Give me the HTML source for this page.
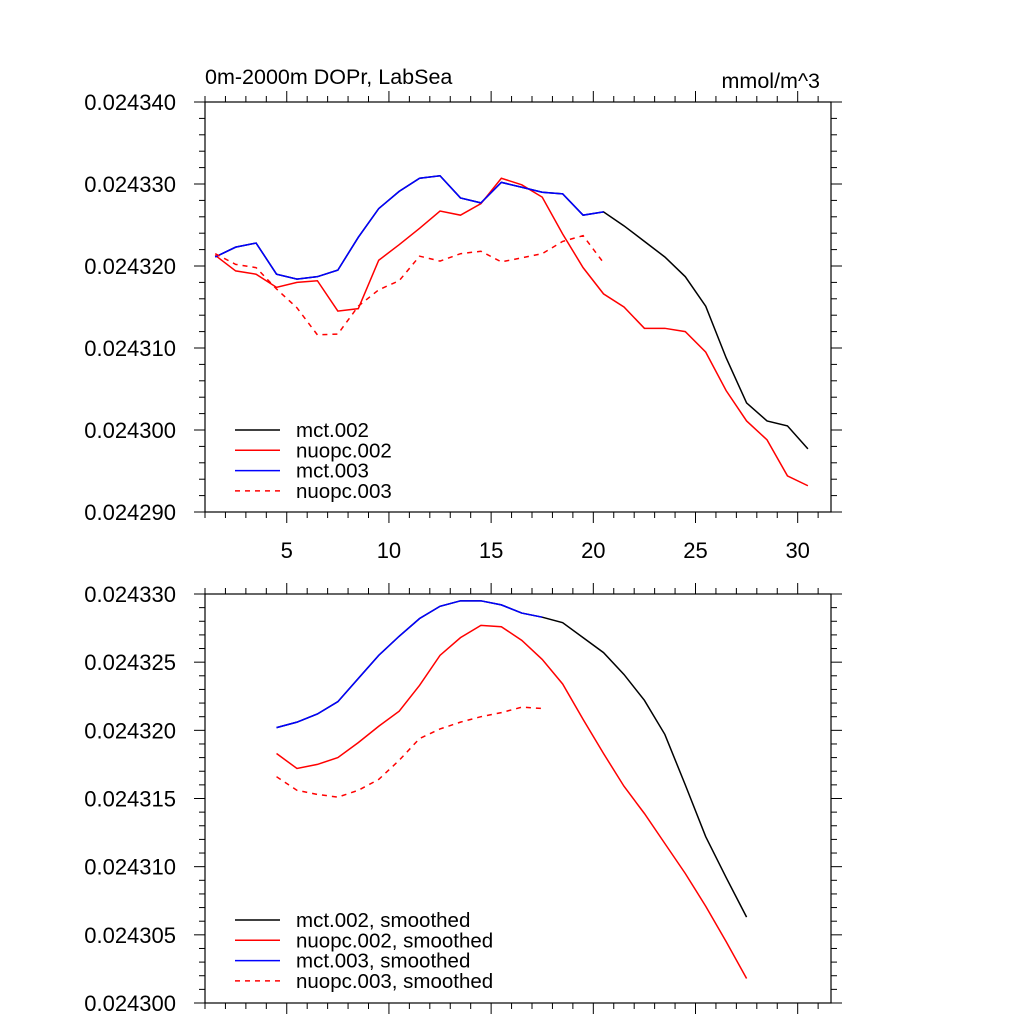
<!DOCTYPE html>
<html><head><meta charset="utf-8"><style>
body{margin:0;background:#fff}
text{font-family:"Liberation Sans",sans-serif;fill:#000}
</style></head><body>
<svg id="c" width="1024" height="1024" xmlns="http://www.w3.org/2000/svg"></svg>
<script>
const xsTop = [1.5,2.5,3.5,4.5,5.5,6.5,7.5,8.5,9.5,10.5,11.5,12.5,13.5,14.5,15.5,16.5,17.5,18.5,19.5,20.5,21.5,22.5,23.5,24.5,25.5,26.5,27.5,28.5,29.5,30.5];
const mct002 = [321.1,322.3,322.8,319.0,318.4,318.7,319.5,323.5,327.0,329.1,330.7,331.0,328.3,327.7,330.2,329.6,329.0,328.8,326.2,326.6,324.9,323.0,321.1,318.7,315.1,308.8,303.3,301.1,300.5,297.7];
const nuopc002 = [321.3,319.4,319.0,317.4,318.0,318.2,314.5,314.8,320.7,322.6,324.6,326.7,326.2,327.6,330.7,329.9,328.4,323.9,319.8,316.6,315.0,312.4,312.4,312.0,309.5,304.8,301.1,298.8,294.4,293.2];
const mct003 = [321.1,322.3,322.8,319.0,318.4,318.7,319.5,323.5,327.0,329.1,330.7,331.0,328.3,327.7,330.2,329.6,329.0,328.8,326.2,326.6];
const nuopc003 = [321.5,320.2,319.8,317.2,314.9,311.6,311.7,315.1,317.1,318.2,321.2,320.6,321.5,321.8,320.5,321.0,321.5,323.0,323.7,320.4];
const xsBot = [4.5,5.5,6.5,7.5,8.5,9.5,10.5,11.5,12.5,13.5,14.5,15.5,16.5,17.5,18.5,19.5,20.5,21.5,22.5,23.5,24.5,25.5,26.5,27.5];
const mct002s = [320.2,320.6,321.2,322.1,323.8,325.5,326.9,328.2,329.1,329.5,329.5,329.2,328.6,328.3,327.9,326.8,325.7,324.1,322.2,319.7,316.0,312.2,309.2,306.3];
const nuopc002s = [318.3,317.2,317.5,318.0,319.1,320.3,321.4,323.3,325.5,326.8,327.7,327.6,326.6,325.2,323.4,320.8,318.3,315.9,313.9,311.7,309.5,307.1,304.5,301.8];
const mct003s = [320.2,320.6,321.2,322.1,323.8,325.5,326.9,328.2,329.1,329.5,329.5,329.2,328.6,328.3];
const nuopc003s = [316.6,315.6,315.3,315.1,315.6,316.4,317.8,319.4,320.1,320.6,321.0,321.3,321.7,321.6];
const xTicks = [5,10,15,20,25,30];
const yTicksTop = [290,300,310,320,330,340];
const yTicksBot = [300,305,310,315,320,325,330];

const svg=document.getElementById('c');
const NS='http://www.w3.org/2000/svg';
function el(t,a,p){const e=document.createElementNS(NS,t);for(const k in a)e.setAttribute(k,a[k]);(p||svg).appendChild(e);return e;}
const L=205,R=831,XMIN=1,XMAX=31.63;
const sx=x=>L+(x-XMIN)/(XMAX-XMIN)*(R-L);

function panel(name,T,B,ymin,ymax,yticks,yminor,xlabels,series,legend,legY){
  const g=el('g',{});
  
  
  const sy=v=>B-(v-ymin)/(ymax-ymin)*(B-T);
  el('rect',{x:L,y:T,width:R-L,height:B-T,fill:'none',stroke:'#000','stroke-width':1.2},g);
  for(let x=1;x<=31;x++){
    const maj=x%5===0, len=maj?11:6, X=sx(x);
    el('line',{x1:X,y1:B,x2:X,y2:B+len,stroke:'#000','stroke-width':1},g);
    el('line',{x1:X,y1:T,x2:X,y2:T-len,stroke:'#000','stroke-width':1},g);
  }
  if(xlabels) xTicks.forEach(x=>{const t=el('text',{x:sx(x),y:B+46,'font-size':22,'text-anchor':'middle'},g);t.textContent=x;
    });
  for(let v=ymin;v<=ymax+1e-9;v+=yminor){
    const maj=yticks.some(t=>Math.abs(t-v)<1e-6), len=maj?11:6, Y=sy(v);
    el('line',{x1:L,y1:Y,x2:L-len,y2:Y,stroke:'#000','stroke-width':1},g);
    el('line',{x1:R,y1:Y,x2:R+len,y2:Y,stroke:'#000','stroke-width':1},g);
  }
  yticks.forEach(v=>{const t=el('text',{x:176,y:sy(v)+8,'font-size':22,'text-anchor':'end'},g);
    t.textContent=(0.024+v*1e-6).toFixed(6);
    });
  series.forEach(s=>{
    const pts=s.y.map((v,i)=>sx(s.x[i])+','+sy(v)).join(' ');
    const p=el('polyline',{points:pts,fill:'none',stroke:s.c,'stroke-width':1.5,'stroke-dasharray':s.d?'5,5':'none'},g);
    
  });
  legend.forEach((s,i)=>{
    const y=legY+i*20.3;
    el('line',{x1:235,y1:y,x2:280,y2:y,stroke:s.c,'stroke-width':1.5,'stroke-dasharray':s.d?'5,5':'none'},g);
    const t=el('text',{x:296,y:y+7,'font-size':20.5},g);t.textContent=s.n;
    
  });
}
panel('top-panel',102,512,290,340,yTicksTop,2,true,
 [{x:xsTop,y:mct002,c:'#000'},{x:xsTop,y:nuopc002,c:'#f00'},{x:xsTop,y:mct003,c:'#00f'},{x:xsTop,y:nuopc003,c:'#f00',d:1}],
 [{n:'mct.002',c:'#000'},{n:'nuopc.002',c:'#f00'},{n:'mct.003',c:'#00f'},{n:'nuopc.003',c:'#f00',d:1}],430);
panel('bottom-panel',594,1003,300,330,yTicksBot,1,false,
 [{x:xsBot,y:mct002s,c:'#000'},{x:xsBot,y:nuopc002s,c:'#f00'},{x:xsBot,y:mct003s,c:'#00f'},{x:xsBot,y:nuopc003s,c:'#f00',d:1}],
 [{n:'mct.002, smoothed',c:'#000'},{n:'nuopc.002, smoothed',c:'#f00'},{n:'mct.003, smoothed',c:'#00f'},{n:'nuopc.003, smoothed',c:'#f00',d:1}],920);
const t1=el('text',{x:205,y:84,'font-size':21.5});t1.textContent='0m-2000m DOPr, LabSea';

const t2=el('text',{x:820,y:88,'font-size':21.5,'text-anchor':'end'});t2.textContent='mmol/m^3';

</script>
</body></html>
